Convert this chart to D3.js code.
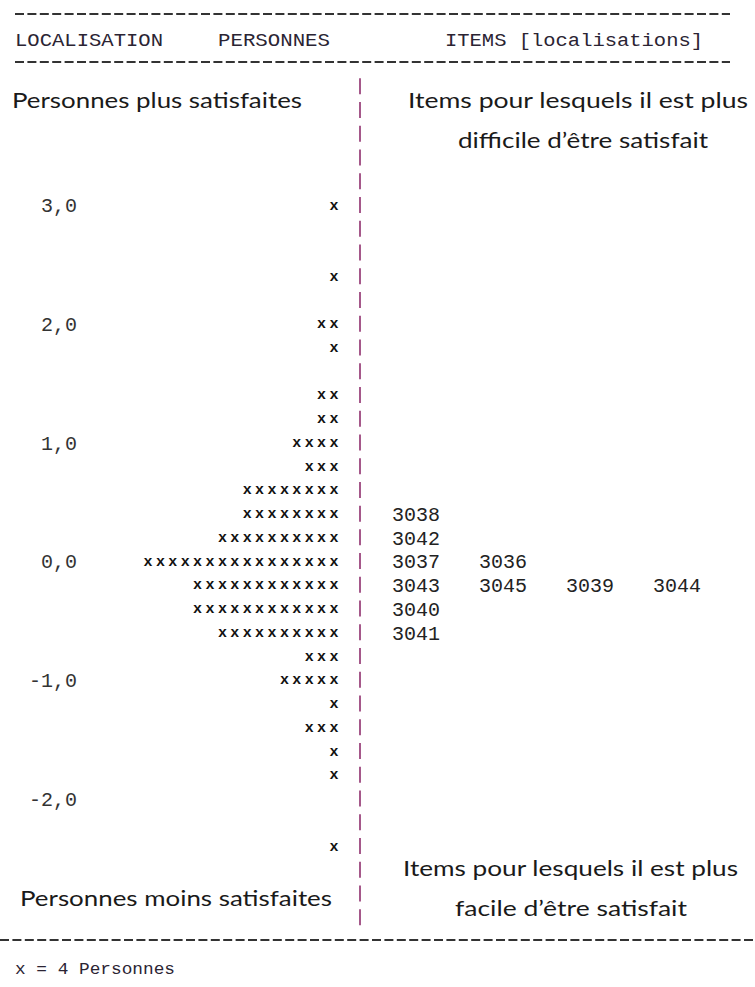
<!DOCTYPE html>
<html>
<head>
<meta charset="utf-8">
<script src="https://cdn.jsdelivr.net/npm/d3@7"></script>
<style>
  html, body { margin: 0; padding: 0; background: #fff; }
  svg { display: block; }
</style>
</head>
<body>
<svg id="chart" width="755" height="987"></svg>
<script>
// ---- data ----
const rowValues = [3.0, 2.4, 2.0, 1.8, 1.4, 1.2, 1.0, 0.8, 0.6, 0.4, 0.2, 0.0, -0.2, -0.4, -0.6, -0.8, -1.0, -1.2, -1.4, -1.6, -1.8, -2.4];
const personCounts = [1, 1, 2, 1, 2, 2, 4, 3, 8, 8, 10, 16, 12, 12, 10, 3, 5, 1, 3, 1, 1, 1];
const itemLabels = ["3038", "3042", "3037", "3036", "3043", "3045", "3039", "3044", "3040", "3041"];
const itemLocations = [0.4, 0.2, 0.0, 0.0, -0.2, -0.2, -0.2, -0.2, -0.4, -0.6];
const tickValues = [3, 2, 1, 0, -1, -2];
const tickLabels = ["3,0", "2,0", "1,0", "0,0", "-1,0", "-2,0"];
const headerLabels = ["LOCALISATION", "PERSONNES", "ITEMS [localisations]"];
const legendText = "x = 4 Personnes";
const topLeftTitle = "Personnes plus satisfaites";
const bottomLeftTitle = "Personnes moins satisfaites";
const topRightTitle = ["Items pour lesquels il est plus", "difficile d\u2019\u00eatre satisfait"];
const bottomRightTitle = ["Items pour lesquels il est plus", "facile d\u2019\u00eatre satisfait"];

// ---- layout ----
const svg = d3.select("#chart");
const mono = "'Liberation Mono', 'DejaVu Sans Mono', monospace";
const sans = "Lato, 'Noto Sans', sans-serif";

const y = d3.scaleLinear().domain([3, -2.4]).range([205, 846]);
const xPerson = d3.scaleLinear().domain([0, 1]).range([334, 321.6]); // index from right
const xItem = d3.scaleLinear().domain([0, 1]).range([392, 479]);     // column index

// horizontal dashed rules
function hRule(x1, x2, yy) {
  svg.append("line").attr("x1", x1).attr("x2", x2).attr("y1", yy).attr("y2", yy)
    .attr("stroke", "#333").attr("stroke-width", 2).attr("stroke-dasharray", "9,3.4");
}
hRule(15, 730, 14);
hRule(15, 730, 62);
hRule(0, 755, 940);

// header
const headerX = [15, 218, 445];
const headerW = [148, 112, 258];
svg.selectAll("text.header").data(headerLabels).join("text")
  .attr("class", "header")
  .attr("x", (d, i) => headerX[i]).attr("y", 46)
  .attr("textLength", (d, i) => headerW[i]).attr("lengthAdjust", "spacingAndGlyphs")
  .attr("font-family", mono).attr("font-size", 18).attr("fill", "#2b2433")
  .text(d => d);

// vertical dashed separator (one dash per row step)
const dashRows = d3.range(0, 36).map(k => 4.0 - k * 0.2);
svg.selectAll("line.sep").data(dashRows).join("line")
  .attr("class", "sep")
  .attr("x1", 360).attr("x2", 360)
  .attr("y1", d => y(d) - 8).attr("y2", d => y(d) + 8)
  .attr("stroke", "#a5588a").attr("stroke-width", 2);

// tick labels
svg.selectAll("text.tick").data(tickValues).join("text")
  .attr("class", "tick")
  .attr("x", 77).attr("y", d => y(d)).attr("dy", "0.36em")
  .attr("text-anchor", "end")
  .attr("font-family", mono).attr("font-size", 20).attr("fill", "#333")
  .text((d, i) => tickLabels[i]);

// persons: one "x" per 4 persons
const crosses = [];
rowValues.forEach((v, r) => {
  for (let i = 0; i < personCounts[r]; i++) crosses.push({ v, i });
});
svg.selectAll("text.person").data(crosses).join("text")
  .attr("class", "person")
  .attr("x", d => xPerson(d.i)).attr("y", d => y(d.v)).attr("dy", "0.3em")
  .attr("text-anchor", "middle")
  .attr("font-family", mono).attr("font-size", 15).attr("font-weight", "bold").attr("fill", "#111")
  .text("x");

// items
const colCount = {};
const itemData = itemLabels.map((lab, i) => {
  const v = itemLocations[i];
  const c = colCount[v] || 0;
  colCount[v] = c + 1;
  return { lab, v, c };
});
svg.selectAll("text.item").data(itemData).join("text")
  .attr("class", "item")
  .attr("x", d => xItem(d.c)).attr("y", d => y(d.v)).attr("dy", "0.36em")
  .attr("font-family", mono).attr("font-size", 20).attr("fill", "#222")
  .text(d => d.lab);

// titles
function title(txt, x, yy, w) {
  svg.append("text").attr("x", x).attr("y", yy)
    .attr("textLength", w).attr("lengthAdjust", "spacingAndGlyphs")
    .attr("font-family", sans).attr("font-size", 22).attr("fill", "#1a1a1a")
    .text(txt);
}
title(topLeftTitle, 12, 108, 290);
title(bottomLeftTitle, 20, 906, 312);
title(topRightTitle[0], 408, 108, 340);
title(topRightTitle[1], 458, 148, 250);
title(bottomRightTitle[0], 403, 876, 335);
title(bottomRightTitle[1], 455, 916, 232);

// legend
svg.append("text").attr("x", 15).attr("y", 974)
  .attr("textLength", 160).attr("lengthAdjust", "spacingAndGlyphs")
  .attr("font-family", mono).attr("font-size", 17).attr("fill", "#2b2433")
  .text(legendText);
</script>
</body>
</html>
